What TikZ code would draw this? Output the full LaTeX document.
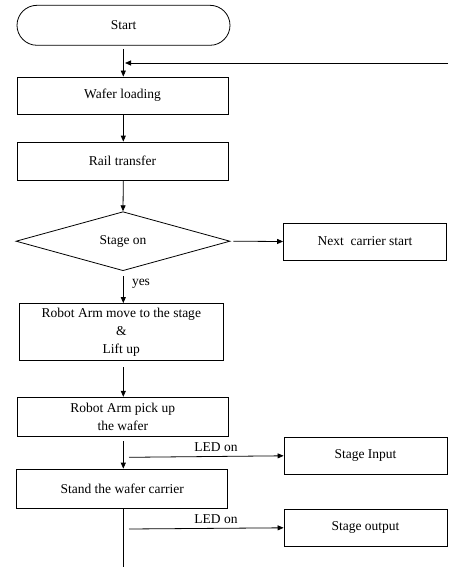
\documentclass[tikz,border=0pt]{standalone}
\usepackage{fontspec}
\setmainfont{Liberation Serif}
\usetikzlibrary{shapes.geometric,arrows.meta}
\begin{document}
\begin{tikzpicture}[x=1pt,y=-1pt,
  every node/.style={font=\fontsize{13.5}{18}\selectfont, text=black},
  box/.style={draw, line width=0.8pt, inner sep=0pt, align=center},
  arr/.style={line width=0.8pt, -{Triangle[length=6pt,width=5pt]}},
  ln/.style={line width=0.8pt},
  lbl/.style={inner sep=0pt}]
\useasboundingbox (0,0) rectangle (448,567);
\node[box, rounded corners=20pt, minimum width=213pt, minimum height=40pt] (start) at (123.5,25.3) {Start};
\node[box, minimum width=211pt, minimum height=37pt] (load) at (122.5,95.5) {Wafer loading};
\node[box, minimum width=211pt, minimum height=38pt] (rail) at (122.5,161) {Rail transfer};
\node[box, shape=diamond, minimum width=214pt, minimum height=59pt] (stage) at (123,241.2) {Stage on};
\node[box, minimum width=163pt, minimum height=37pt] (next) at (365,241.5) {Next~ carrier start};
\node[box, minimum width=204pt, minimum height=57pt] (move) at (121.3,332) {Robot Arm move to the stage\\\&\\Lift up};
\node[box, minimum width=211pt, minimum height=39pt] (pick) at (122.8,416.7) {Robot Arm pick up\\the wafer};
\node[box, minimum width=211pt, minimum height=39.5pt] (stand) at (122.2,488.8) {Stand the wafer carrier};
\node[box, minimum width=163pt, minimum height=37.5pt] (sin) at (365.5,455.8) {Stage Input};
\node[box, minimum width=163pt, minimum height=37pt] (sout) at (365.5,527.8) {Stage output};

\coordinate (ret) at (448,63);
\coordinate (retend) at (125,63);
\coordinate (bottom) at (123.3,567);
\coordinate (l1s) at (129,457.3);
\coordinate (l2s) at (129,529);

\draw[arr] (123.3,49) -- (load.north -| 123.3,0);
\draw[arr] (ret) -- (retend);
\draw[arr] (load.south -| 123.3,0) -- (rail.north -| 123.3,0);
\draw[arr] (rail.south -| 123.3,0) -- (stage.north);
\draw[arr] ([xshift=3pt]stage.east) -- (next.west);
\draw[arr] (123.3,276) -- (move.north -| 123.3,0);
\draw[arr] (123.3,367) -- (pick.north -| 123.3,0);
\draw[arr] (123.3,441) -- (stand.north -| 123.3,0);
\draw[ln] (stand.south -| 123.3,0) -- (bottom);
\draw[arr] (l1s) -- (sin.west);
\draw[arr] (l2s) -- (sout.west);

\node[lbl] (yes) at (141,284) {yes};
\node[lbl] (led1) at (216,447.5) {LED on};
\node[lbl] (led2) at (216,519) {LED on};
\end{tikzpicture}
\end{document}
